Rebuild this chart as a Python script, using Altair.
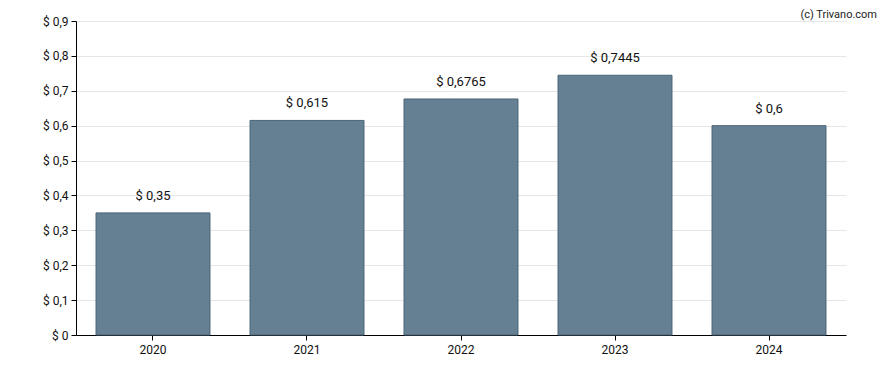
import altair as alt
import pandas as pd

years = ["2020", "2021", "2022", "2023", "2024"]
values = [0.35, 0.615, 0.6765, 0.7445, 0.6]
y_ticks = [0, 0.1, 0.2, 0.3, 0.4, 0.5, 0.6, 0.7, 0.8, 0.9]
watermark = "(c) Trivano.com"

df = pd.DataFrame({"year": years, "value": values})

FONT = "Roboto"

x_axis = alt.Axis(labelAngle=0, labelFontSize=12, labelColor="#111", labelFont=FONT,
                  domainColor="#000", tickColor="#000", tickSize=5, labelPadding=4,
                  grid=False)
y_axis = alt.Axis(values=y_ticks, labelOverlap=False,
                  labelExpr="datum.value == 0 ? '$ 0' : '$ ' + replace(format(datum.value, '.1f'), '.', ',')",
                  labelFontSize=12, labelColor="#111", labelFont=FONT,
                  domainColor="#000", tickColor="#000", tickSize=5, labelPadding=3,
                  grid=True, gridColor="#e6e6e6")

def x_enc():
    return alt.X("year:N", title=None,
                 scale=alt.Scale(paddingInner=0.26, paddingOuter=0.13), axis=x_axis)

def y_enc():
    return alt.Y("value:Q", title=None,
                 scale=alt.Scale(domain=[0, 0.9], nice=False), axis=y_axis)

bars = alt.Chart(df).mark_bar(color="#658092", stroke="#4b6478", strokeWidth=1).encode(
    x=x_enc(), y=y_enc()
)

labels = alt.Chart(df).transform_calculate(
    label="'$ ' + replace(toString(datum.value), '.', ',')"
).mark_text(baseline="alphabetic", dy=-13, fontSize=13, font=FONT, color="#111").encode(
    x=x_enc(), y=y_enc(), text="label:N",
)

wm = alt.Chart(pd.DataFrame({"t": [watermark]})).mark_text(
    align="right", baseline="top", fontSize=11, font=FONT, color="#222"
).encode(x=alt.value(801), y=alt.value(-12), text="t:N")

chart = alt.layer(bars, labels, wm).properties(
    width=770, height=314,
    background="white",
    autosize=alt.AutoSizeParams(type="none"),
    padding={"left": 68, "top": 13, "right": 34, "bottom": 27},
).configure_view(stroke=None)

chart.save("out.html", embed_options={"renderer": "svg", "actions": False})
